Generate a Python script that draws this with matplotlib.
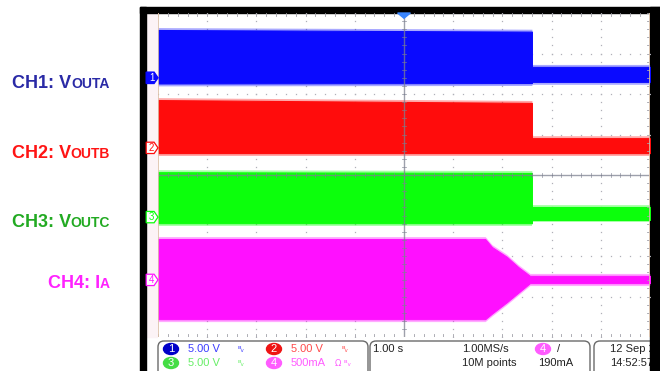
import matplotlib
matplotlib.use('Agg')
import matplotlib.pyplot as plt
from matplotlib.patches import Rectangle, Polygon, FancyBboxPatch, Ellipse

W, H = 660, 371

# trace envelopes in screen divisions (10 x 8 graticule)
ch1_t = [0.0, 7.6, 7.6, 10.0]
ch1_top = [7.58, 7.54, 6.67, 6.67]
ch1_bot = [6.26, 6.27, 6.30, 6.30]

ch2_t = [0.0, 7.6, 7.6, 10.0]
ch2_top = [5.85, 5.78, 4.91, 4.91]
ch2_bot = [4.54, 4.54, 4.54, 4.54]

ch3_t = [0.0, 7.6, 7.6, 10.0]
ch3_top = [4.07, 4.05, 3.21, 3.21]
ch3_bot = [2.81, 2.81, 2.89, 2.89]

ch4_t = [0.0, 6.65, 6.79, 7.09, 7.32, 7.56, 10.0]
ch4_top = [2.42, 2.42, 2.22, 1.98, 1.73, 1.51, 1.51]
ch4_bot = [0.44, 0.44, 0.58, 0.86, 1.09, 1.33, 1.33]

ch_levels = [6.4, 4.67, 2.96, 1.41]
ch_names = ['1', '2', '3', '4']
trace_colors = ['#0a0aff', '#ff0c0c', '#0cff0c', '#ff10ff']
label_colors = ['#2a2aa6', '#ff1414', '#22aa22', '#ff22ff']
label_main = ['CH1: V', 'CH2: V', 'CH3: V', 'CH4: I']
label_sub = ['OUTA', 'OUTB', 'OUTC', 'A']
label_base = [88, 158, 227, 288]

scale_text = ['5.00 V', '5.00 V', '5.00 V', '500mA']
scale_colors = ['#3c3cff', '#ff4a4a', '#66ee66', '#ff5cff']
badge_colors = ['#0000c8', '#ee1414', '#44dd44', '#ff5cff']

timebase = '1.00 s'
sample_rate = '1.00MS/s'
record_len = '10M points'
trig_level = '190mA'
date_str = '12 Sep 2013'
time_str = '14:52:57'

sans = ['Liberation Sans', 'DejaVu Sans']
fs = 8

fig = plt.figure(figsize=(W / 100, H / 100), dpi=100)
bg = fig.add_axes([0, 0, 1, 1])
bg.set_xlim(0, W)
bg.set_ylim(H, 0)
bg.axis('off')

# scope frame
bg.add_patch(Rectangle((140, 7), 6, H - 7, color='black', zorder=10))
bg.add_patch(Rectangle((140, 7), W - 140, 6, color='black', zorder=10))
bg.add_patch(Rectangle((650, 7), 10, H - 7, color='black', zorder=10))
bg.add_patch(Rectangle((146, 13), 11, 324, color='#fcf3f6', zorder=1))

# channel labels on the left, small caps part right aligned
fig.canvas.draw()
r = fig.canvas.get_renderer()
for main, sub, col, yb in zip(label_main, label_sub, label_colors, label_base):
    t = bg.text(110, yb, sub, ha='right', va='baseline', color=col,
                fontsize=10, fontweight='bold', family=sans)
    bb = t.get_window_extent(r)
    bg.text(bb.x0, yb, main, ha='right', va='baseline', color=col,
            fontsize=13, fontweight='bold', family=sans)

# status bar boxes
for x0, w in [(158, 210), (370, 220), (594, 80)]:
    bg.add_patch(FancyBboxPatch((x0, 341), w, 40,
                                boxstyle='round,pad=0,rounding_size=6',
                                fc='none', ec='#6a6a6a', lw=1, zorder=2))

rows = [349, 363]
for i in range(4):
    cx = 171 if i % 2 == 0 else 274
    cy = rows[i // 2]
    bg.add_patch(Ellipse((cx, cy), 15, 11, color=badge_colors[i], zorder=3))
    bg.text(cx, cy + 0.5, ch_names[i], ha='center', va='center', color='white',
            fontsize=fs, family=sans, zorder=4)
    bg.text(cx + 17, cy, scale_text[i], ha='left', va='center',
            color=scale_colors[i], fontsize=fs, family=sans, zorder=4)
    icon = 'ᴮᵥ' if i != 3 else 'Ω ᴮᵥ'
    bg.text(cx + (67 if i != 3 else 61), cy, icon, ha='left', va='center',
            color=scale_colors[i], fontsize=6, family=['DejaVu Sans'], zorder=4)

bg.text(373, 349, timebase, ha='left', va='center', fontsize=fs,
        family=sans, color='#222222')
bg.text(462, 349, sample_rate, ha='left', va='center', fontsize=fs,
        family=sans, color='#222222')
bg.text(462, 363, record_len, ha='left', va='center', fontsize=fs,
        family=sans, color='#222222')
bg.add_patch(Ellipse((543, 349), 15, 11, color=badge_colors[3], zorder=3))
bg.text(543, 349.5, '4', ha='center', va='center', color='white',
        fontsize=fs, family=sans, zorder=4)
bg.text(557, 349, '/', ha='left', va='center', fontsize=fs,
        family=sans, color='#222222')
bg.text(538, 363, trig_level, ha='left', va='center', fontsize=fs,
        family=sans, color='#222222')
bg.text(610, 349, date_str, ha='left', va='center', fontsize=fs,
        family=sans, color='#222222', zorder=4)
bg.text(610, 363, time_str, ha='left', va='center', fontsize=fs,
        family=sans, color='#222222', zorder=4)

# graticule
ax = fig.add_axes([158 / W, (H - 337) / H, 492 / W, 324 / H])
ax.set_xlim(0, 10)
ax.set_ylim(0, 8)
ax.axis('off')
ax.patch.set_alpha(0)

steps_x = [i * 0.2 for i in range(51)]
steps_y = [i * 0.2 for i in range(41)]
for gx in [1, 2, 3, 4, 6, 7, 8, 9]:
    ax.plot([gx] * len(steps_y), steps_y, ls='none', marker='s', ms=0.9,
            mew=0, color='#b0b0b8', zorder=1)
for gy in [1, 2, 3, 5, 6, 7]:
    ax.plot(steps_x, [gy] * len(steps_x), ls='none', marker='s', ms=0.9,
            mew=0, color='#b0b0b8', zorder=1)

tr_t = [ch1_t, ch2_t, ch3_t, ch4_t]
tr_top = [ch1_top, ch2_top, ch3_top, ch4_top]
tr_bot = [ch1_bot, ch2_bot, ch3_bot, ch4_bot]
fringe = 0.06
for t, top, bot, col in zip(tr_t, tr_top, tr_bot, trace_colors):
    ax.fill_between(t, bot, top, color=col, lw=0.8, ec=col, zorder=2)
    # soft noisy edge above and below the band
    ax.fill_between(t, top, [v + fringe for v in top], color=col, lw=0,
                    alpha=0.35, zorder=2)
    ax.fill_between(t, [v - fringe for v in bot], bot, color=col, lw=0,
                    alpha=0.35, zorder=2)

# center axes with minor ticks, drawn over the traces
ax.axvline(5, color='#7c8090', lw=1, alpha=0.75, zorder=3)
ax.axhline(4, color='#7c8090', lw=1, alpha=0.75, zorder=3)
for s in steps_y:
    ax.plot([4.95, 5.05], [s, s], color='#7c8090', lw=0.6, alpha=0.7, zorder=3)
for s in steps_x:
    ax.plot([s, s], [3.94, 4.06], color='#7c8090', lw=0.6, alpha=0.7, zorder=3)
    ax.plot([s, s], [7.93, 8.0], color='#a0a0a8', lw=0.6, zorder=3)
    ax.plot([s, s], [0.0, 0.07], color='#a0a0a8', lw=0.6, zorder=3)
for s in steps_y:
    ax.plot([9.93, 10], [s, s], color='#a0a0a8', lw=0.6, zorder=3)

ax.axvline(0, color='#dcc0a8', lw=1.2, zorder=4)
ax.axvline(10, color='#dcc0a8', lw=1.2, zorder=4)

# trigger position marker
ax.add_patch(Polygon([(4.87, 8.0), (5.13, 8.0), (5.0, 7.87)], closed=True,
                     color='#3a86ff', clip_on=False, zorder=5))

# channel ground markers
for i, lv in enumerate(ch_levels):
    pts = [(-0.24, lv + 0.14), (-0.08, lv + 0.14), (0.0, lv),
           (-0.08, lv - 0.14), (-0.24, lv - 0.14)]
    if i == 0:
        ax.add_patch(Polygon(pts, closed=True, fc=trace_colors[0],
                             ec=trace_colors[0], clip_on=False, zorder=5))
        tc = 'white'
    else:
        ax.add_patch(Polygon(pts, closed=True, fc='white', ec=trace_colors[i],
                             lw=0.9, clip_on=False, zorder=5))
        tc = trace_colors[i]
    ax.text(-0.13, lv, ch_names[i], ha='center', va='center', color=tc,
            fontsize=7, family=sans, clip_on=False, zorder=6)

fig.savefig('out.png', dpi=100)
